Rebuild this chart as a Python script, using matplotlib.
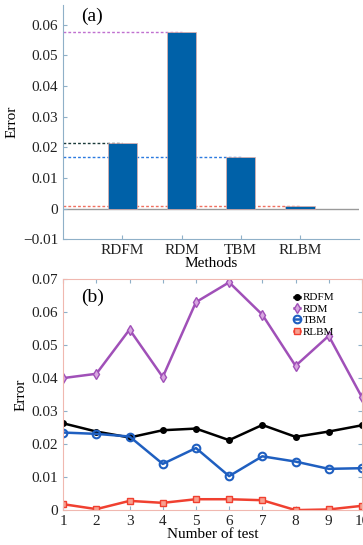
import numpy as np
import matplotlib.pyplot as plt

plt.rcParams['font.family'] = ['Liberation Serif', 'DejaVu Serif']

# panel (a): mean error per method
methods = ['RDFM', 'RDM', 'TBM', 'RLBM']
mean_err = [0.0215, 0.0575, 0.0170, 0.0010]
ref_colors = ['#1a3a3a', '#c070d0', '#2a7ae0', '#f07060']

# panel (b): error per test
tests = np.arange(1, 11)
rdfm = [0.0263, 0.0238, 0.0220, 0.0242, 0.0247, 0.0212, 0.0258, 0.0222, 0.0238, 0.0257]
rdm = [0.0400, 0.0413, 0.0547, 0.0403, 0.0630, 0.0690, 0.0592, 0.0437, 0.0528, 0.0342]
tbm = [0.0235, 0.0231, 0.0223, 0.0140, 0.0188, 0.0103, 0.0163, 0.0147, 0.0125, 0.0127]
rlbm = [0.0018, 0.0003, 0.0028, 0.0022, 0.0033, 0.0033, 0.0030, 0.0000, 0.0002, 0.0013]

fig = plt.figure(figsize=(3.63, 5.45), dpi=100)

# ---- (a) bar chart ----
ax1 = fig.add_axes([0.174, 0.561, 0.815, 0.430])
pos = np.arange(1, 5)
ax1.axhline(0, color='#9a9a9a', lw=1.0, zorder=1)
for p, v, c in zip(pos, mean_err, ref_colors):
    ax1.plot([0, p], [v, v], ls=(0, (2, 1.5)), color=c, lw=1.0, zorder=2)
ax1.bar(pos, mean_err, width=0.5, color='#0061a8', edgecolor='#e8b0a8', lw=0.5, zorder=3)
ax1.set_xlim(0, 5)
ax1.set_ylim(-0.01, 0.0665)
ax1.set_yticks([-0.01, 0, 0.01, 0.02, 0.03, 0.04, 0.05, 0.06])
ax1.set_yticklabels(['\u22120.01', '0', '0.01', '0.02', '0.03', '0.04', '0.05', '0.06'])
ax1.set_xticks(pos)
ax1.set_xticklabels(methods)
ax1.set_xlabel('Methods', fontsize=11, labelpad=0)
ax1.set_ylabel('Error', fontsize=11, labelpad=3)
for s in ['top', 'right']:
    ax1.spines[s].set_visible(False)
for s in ['left', 'bottom']:
    ax1.spines[s].set_color('#8fb0c8')
ax1.tick_params(direction='in', labelsize=11, colors='#8fb0c8', labelcolor='#222222', length=3)
ax1.text(0.06, 0.99, '(a)', transform=ax1.transAxes, fontsize=14, va='top', ha='left')

# ---- (b) line chart ----
ax2 = fig.add_axes([0.174, 0.064, 0.823, 0.424])
ax2.plot(tests, rdfm, color='black', lw=1.8, marker='o', ms=4, label='RDFM')
ax2.plot(tests, rdm, color='#a050b8', lw=1.8, marker='d', ms=5.5, mfc='#d8a8e0', mec='#a050b8', label='RDM')
ax2.plot(tests, tbm, color='#1f5fc0', lw=1.8, marker='o', ms=5.5, mfc='none', mec='#1f5fc0', mew=1.5, label='TBM')
ax2.plot(tests, rlbm, color='#f04030', lw=1.8, marker='s', ms=4, mfc='#f8a090', mec='#f04030', label='RLBM')
ax2.set_xlim(1, 10)
ax2.set_ylim(0, 0.07)
ax2.set_xticks(tests)
ax2.set_yticks([0, 0.01, 0.02, 0.03, 0.04, 0.05, 0.06, 0.07])
ax2.set_yticklabels(['0', '0.01', '0.02', '0.03', '0.04', '0.05', '0.06', '0.07'])
ax2.set_xlabel('Number of test', fontsize=11, labelpad=0)
ax2.set_ylabel('Error', fontsize=11, labelpad=3)
for s in ax2.spines.values():
    s.set_color('#f0b8b0')
ax2.tick_params(direction='in', labelsize=11, colors='#8fb0c8', labelcolor='#222222', length=3,
                top=True, right=True)
ax2.text(0.06, 0.96, '(b)', transform=ax2.transAxes, fontsize=14, va='top', ha='left')
ax2.legend(loc='upper right', bbox_to_anchor=(0.93, 0.97), frameon=False, fontsize=8,
           handlelength=0.6, handletextpad=0.2, labelspacing=0.15, borderaxespad=0.2)

fig.savefig('out.png', dpi=100)
